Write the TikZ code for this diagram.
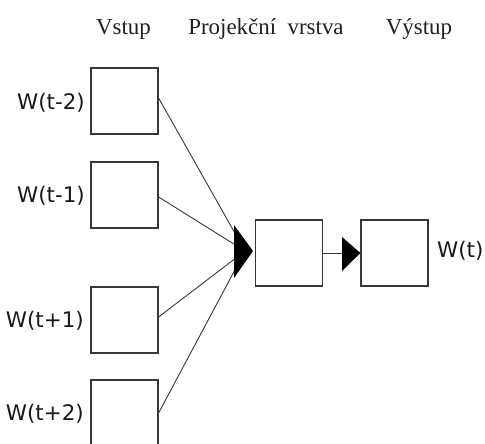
\documentclass[tikz,border=0pt]{standalone}
\usepackage{fontspec}
\setmainfont{Liberation Serif}
\newfontfamily\lblfont{DejaVu Sans}
\begin{document}
\begin{tikzpicture}[x=1bp,y=-1bp,
  unit/.style={draw=black!78, line width=1.2bp, minimum width=67bp, minimum height=66bp, inner sep=0pt},
  head/.style={font=\fontsize{23}{26}\selectfont, anchor=base, inner sep=0pt, text=black!88},
  wfont/.style={font=\lblfont\fontsize{21.5}{24}\selectfont, inner sep=0pt, text=black!90},
  wlbl/.style={wfont, anchor=base east},
  link/.style={draw=black!78, line width=0.9bp},
  tip/.style={fill=black, draw=none}]
\useasboundingbox (0,0) rectangle (485,444);
\begin{scope}
\clip (0,0) rectangle (485,444);

% column headings
\node[head] (hIn)   at (123.5,35) {Vstup};
\node[head] (hProj) at (266,35) {Projekční\ \ vrstva};
\node[head] (hOut)  at (419,35) {Výstup};

% context word inputs
\node[unit] (in1) at (124.5,101) {};
\node[unit] (in2) at (124.5,195) {};
\node[unit] (in3) at (124.5,320) {};
\node[unit] (in4) at (124.5,413) {};

\node[wlbl] (l1) at (85,110) {W(t-2)};
\node[wlbl] (l2) at (85,203) {W(t-1)};
\node[wlbl] (l3) at (84,327) {W(t+1)};
\node[wlbl] (l4) at (84,420) {W(t+2)};

% projection and output
\node[unit] (proj) at (289,253) {};
\node[unit] (out)  at (394.5,253) {};
\node[wfont, anchor=base west] (lOut) at (437,257) {W(t)};

% merging connectors
\coordinate (hub) at (245,251);
\draw[link] (in1.east |- 0,98)  -- (hub);
\draw[link] (in2.east |- 0,197) -- (hub);
\draw[link] (in3.east |- 0,317) -- (hub);
\draw[link] (in4.east |- 0,413) -- (hub);
\fill[tip] (234,225) -- (253,251) -- (234,278) -- cycle;

% projection to output
\coordinate (headB) at (343,253);
\draw[link] (proj.east) -- (headB);
\fill[tip] (342,237) -- (out.west) -- (342,271) -- cycle;
\end{scope}
\end{tikzpicture}
\end{document}
